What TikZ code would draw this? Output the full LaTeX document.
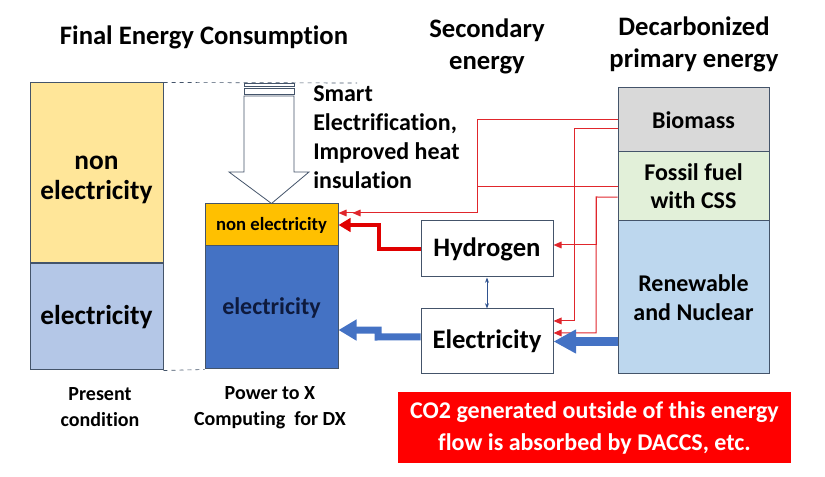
\documentclass[tikz,border=0pt]{standalone}
\usepackage{fontspec}
\setmainfont{Carlito}[Ligatures=NoCommon]
\usetikzlibrary{arrows.meta}

\definecolor{edgegray}{HTML}{44546A}
\definecolor{paleyellow}{HTML}{FFE699}
\definecolor{paleblue}{HTML}{B4C7E7}
\definecolor{amber}{HTML}{FFC000}
\definecolor{midblue}{HTML}{4472C4}
\definecolor{navytext}{HTML}{0E1A3D}
\definecolor{biogray}{HTML}{D9D9D9}
\definecolor{fossilgreen}{HTML}{E2F0D9}
\definecolor{renewblue}{HTML}{BDD7EE}
\definecolor{flowred}{HTML}{E0262C}
\definecolor{thickred}{HTML}{E00000}
\definecolor{linkblue}{HTML}{2F528F}

\tikzset{
  box/.style={draw=edgegray, line width=0.75pt, inner sep=0pt, align=center},
  hdr/.style={align=center, inner sep=0pt, font=\fontsize{20}{24}\selectfont\bfseries},
  captxt/.style={align=center, inner sep=0pt, font=\fontsize{15}{19.5}\selectfont\bfseries},
  redln/.style={draw=flowred, line width=0.75pt, -{Triangle[length=6pt,width=5pt]}},
}

\begin{document}
\begin{tikzpicture}[x=0.75pt,y=0.75pt,yscale=-1,xscale=1]
\useasboundingbox (0,0) rectangle (825,477);

% headings
\node[hdr] (thead) at (204,37) {Final Energy Consumption};
\node[hdr] (shead) at (487,46) {Secondary\\energy};
\node[hdr] (phead) at (694,44) {Decarbonized\\primary energy};

% present condition
\node[box, fill=paleyellow, minimum width=99.75pt, minimum height=135pt,
  label={[align=center, inner sep=0pt, yshift=-5pt, font=\fontsize{20.5}{22.5}\selectfont\bfseries]center:{non\\electricity}}] (pnon) at (96.5,173) {};
\node[box, fill=paleblue, minimum width=99.75pt, minimum height=79.5pt, font=\fontsize{20.5}{22.5}\selectfont\bfseries] (pele) at (96.5,317) {electricity};

% future consumption
\node[box, fill=amber, minimum width=99.75pt, minimum height=31.5pt, font=\fontsize{14}{17}\selectfont\bfseries] (fnon) at (271.5,225) {non electricity};
\node[box, fill=midblue, minimum width=99.75pt, minimum height=92.25pt, font=\fontsize{18}{21}\selectfont\bfseries, text=navytext] (fele) at (271.5,307.5) {electricity};

% secondary energy
\node[box, fill=white, minimum width=99pt, minimum height=42pt, font=\fontsize{20}{24}\selectfont\bfseries] (hyd) at (487,249) {Hydrogen};
\node[box, fill=white, minimum width=99pt, minimum height=48.75pt, font=\fontsize{20}{24}\selectfont\bfseries] (ele) at (487,341.5) {Electricity};

% primary energy
\node[box, fill=biogray, minimum width=113.25pt, minimum height=48pt, font=\fontsize{18}{21}\selectfont\bfseries] (bio) at (693.5,120) {Biomass};
\node[box, fill=fossilgreen, minimum width=113.25pt, minimum height=51.75pt, font=\fontsize{18}{21}\selectfont\bfseries] (fos) at (693.5,186.5) {Fossil fuel\\with CSS};
\node[box, fill=renewblue, minimum width=113.25pt, minimum height=114.75pt, font=\fontsize{18}{21.75}\selectfont\bfseries] (ren) at (693.5,297.5) {Renewable\\and Nuclear};

% captions
\node[captxt] (pcap) at (100,407) {Present\\condition};
\node[captxt] (fcap) at (270,408) {Power to X\\Computing~~for DX};
\node[align=left, anchor=north west, inner sep=0pt, font=\fontsize{18}{21.75}\selectfont\bfseries] (smart) at (313,85) {Smart\\Electrification,\\Improved heat\\insulation};
\node[box, draw=none, fill=red, text=white, minimum width=294.75pt, minimum height=53.25pt, font=\fontsize{18}{24}\selectfont\bfseries] (co2) at (594.5,427.5) {CO2 generated outside of this energy\\flow is absorbed by DACCS, etc.};

% dashed guides
\draw[edgegray, line width=0.5pt, dashed] (pnon.north east) -- (357,83);
\draw[edgegray, line width=0.5pt, dashed] (pele.south east) -- (fele.south west);

% striped hollow arrow
\draw[edgegray, line width=0.6pt, fill=white] (244,83) rectangle (294,86);
\draw[edgegray, line width=0.6pt, fill=white] (244,88) rectangle (294,94);
\draw[edgegray, line width=0.6pt, fill=white] (244,96) -- (294,96) -- (294,172) -- (309,172) -- (fnon.north) -- (229,172) -- (244,172) -- cycle;

% thin red flows (yshift runs downward here)
\coordinate (ra) at (477,120);
\coordinate (rb) at (477,186.5);
\coordinate (rc) at (574,129);
\coordinate (rd) at (596,197);
\draw[redln] (bio.west) -- (ra) |- ([yshift=-9pt]fnon.east);
\draw[redln] (fos.west) -- (rb) |- ([xshift=10.5pt,yshift=-9pt]fnon.east);
\draw[redln] ([yshift=6.75pt]bio.west) -- (rc) |- ([yshift=-15.4pt]ele.east);
\draw[redln] ([yshift=7.9pt]fos.west) -- (rd) |- ([yshift=-6.4pt]ele.east);
\draw[redln] (rd) |- ([yshift=-3pt]hyd.east);

% thick flows
\coordinate (hbend) at (379,249);
\coordinate (ebend) at (378,337);
\draw[thickred, line width=3pt, -{Triangle[length=9pt,width=10pt]}] (hyd.west) -- (hbend) |- (fnon.east);
\draw[midblue, line width=5.25pt, -{Triangle[length=13.5pt,width=15pt]}] ([yshift=-3.4pt]ele.west) -- (ebend) |- ([yshift=16.9pt]fele.east);
\draw[midblue, line width=6.75pt, -{Triangle[length=17pt,width=17pt]}] (ren.west |- ele.east) -- (ele.east);
\draw[linkblue, line width=0.75pt, {Stealth[length=4pt,width=3pt]}-{Stealth[length=4pt,width=3pt]}] (hyd.south) -- (ele.north);

\end{tikzpicture}
\end{document}
